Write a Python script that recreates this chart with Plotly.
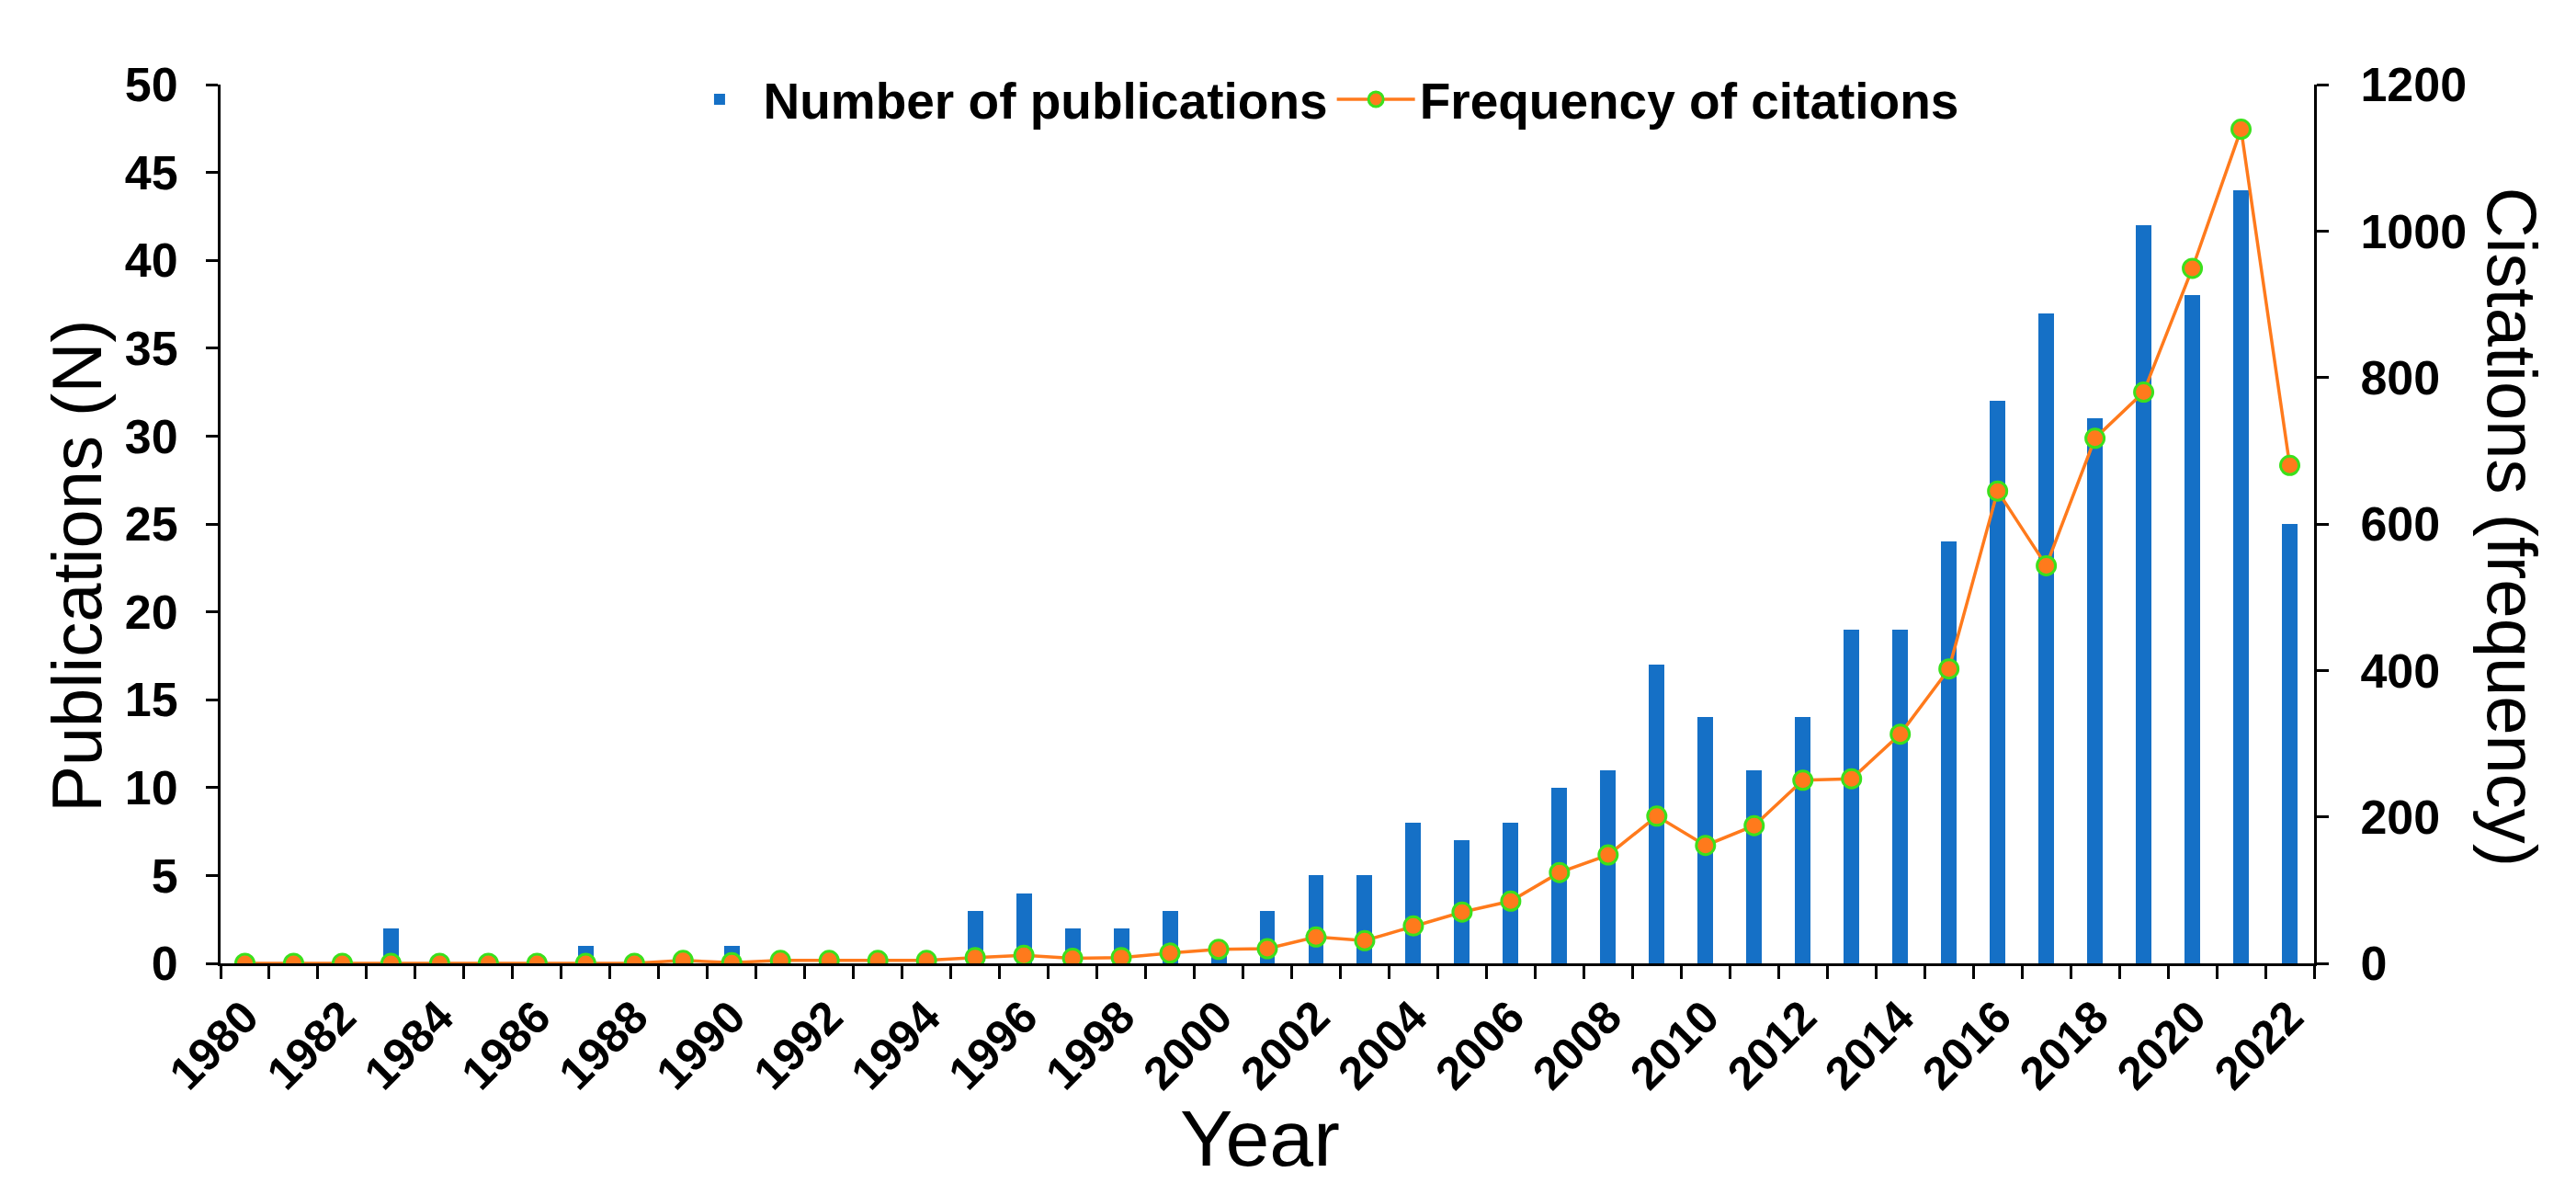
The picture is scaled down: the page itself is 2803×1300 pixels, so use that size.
import plotly.graph_objects as go

years = list(range(1980, 2023))
publications = [0, 0, 0, 2, 0, 0, 0, 1, 0, 0,
                1, 0, 0, 0, 0, 3, 4, 2, 2, 3,
                1, 3, 5, 5, 8, 7, 8, 10, 11, 17,
                14, 11, 14, 19, 19, 24, 32, 37, 31, 42,
                38, 44, 25]
citations = [0, 0, 0, 0, 0, 0, 0, 0, 0, 4,
             1, 4, 4, 4, 4, 8, 11, 7, 8, 14,
             19, 20, 36, 31, 51, 70, 85, 124, 148, 201,
             161, 188, 250, 252, 313, 402, 645, 543, 717, 780,
             949, 1139, 680]
xtick_labels = [str(y) for y in range(1980, 2023, 2)]
left_ticks = list(range(0, 51, 5))
right_ticks = list(range(0, 1201, 200))

FONT = "Liberation Sans, Arial, sans-serif"
BLUE = "#1570C6"
ORANGE = "#FF7A1C"
GREEN = "#3BE01C"

fig = go.Figure()
fig.add_trace(go.Bar(
    x=years, y=publications, name="Number of publications",
    marker=dict(color=BLUE, line=dict(width=0)), width=0.32, yaxis="y",
))
fig.add_trace(go.Scatter(
    x=years, y=citations, name="Frequency of citations", mode="lines+markers",
    line=dict(color=ORANGE, width=3.5),
    marker=dict(color=ORANGE, size=20, line=dict(color=GREEN, width=3)),
    yaxis="y2",
))

tickfont = dict(family=FONT, size=52, color="black", weight="bold")
xtickfont = dict(family=FONT, size=50, color="black", weight="bold")
fig.update_layout(
    width=2803, height=1300,
    margin=dict(l=232, r=293, t=84, b=260, autoexpand=False),
    plot_bgcolor="white", paper_bgcolor="white",
    bargap=0,
    showlegend=True,
    legend=dict(
        orientation="h", x=0.525, y=0.983, xanchor="center", yanchor="middle",
        font=dict(family=FONT, size=55, color="black", weight="bold"),
        bgcolor="rgba(0,0,0,0)", itemwidth=85, tracegroupgap=0,
    ),
    xaxis=dict(
        range=[1979.5, 2022.5],
        tickmode="array", tickvals=[int(t) for t in xtick_labels], ticktext=xtick_labels,
        ticks="", tickangle=-45, tickfont=xtickfont, ticklabelstandoff=6,
        showline=True, linecolor="black", linewidth=3, showgrid=False, zeroline=False,
        minor=dict(ticks="outside", ticklen=14, tickwidth=3, tickcolor="black",
                   tickmode="array", tickvals=[y - 0.5 for y in years] + [2022.5], showgrid=False),
    ),
    yaxis=dict(
        range=[0, 50], tickmode="array", tickvals=left_ticks,
        ticks="outside", ticklen=13, tickwidth=3, tickcolor="black",
        tickfont=tickfont, ticklabelstandoff=20,
        showline=True, linecolor="black", linewidth=3, showgrid=False, zeroline=False,
    ),
    yaxis2=dict(
        range=[0, 1200], tickmode="array", tickvals=right_ticks,
        overlaying="y", side="right", anchor="x",
        ticks="outside", ticklen=13, tickwidth=3, tickcolor="black",
        tickfont=tickfont, ticklabelstandoff=24,
        showline=True, linecolor="black", linewidth=3, showgrid=False, zeroline=False,
    ),
    annotations=[
        dict(text="Publications (N)", xref="paper", yref="paper", x=-0.0685, y=0.452,
             xanchor="center", yanchor="middle", textangle=-90, showarrow=False,
             font=dict(family=FONT, size=76, color="black")),
        dict(text="Cistations (frequency)", xref="paper", yref="paper", x=1.0944, y=0.497,
             xanchor="center", yanchor="middle", textangle=90, showarrow=False,
             font=dict(family=FONT, size=76, color="black")),
        dict(text="Year", xref="paper", yref="paper", x=0.4965, y=-0.1987,
             xanchor="center", yanchor="middle", showarrow=False,
             font=dict(family=FONT, size=86, color="black")),
    ],
)

fig.write_html("out.html")
